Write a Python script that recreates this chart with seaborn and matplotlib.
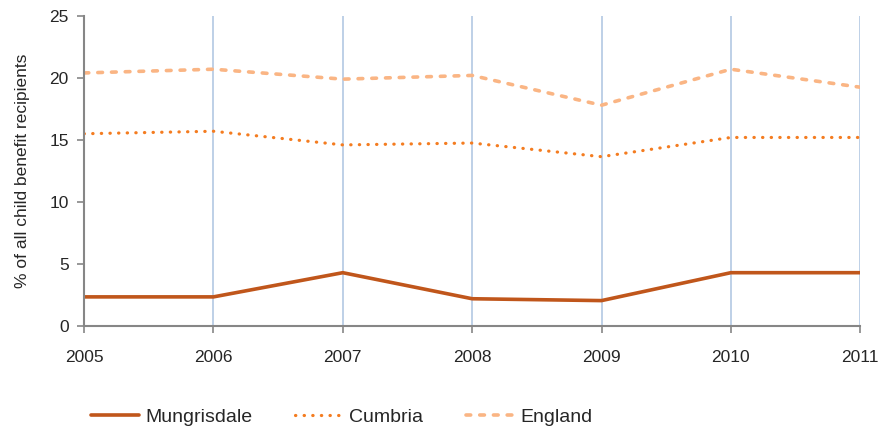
import matplotlib
matplotlib.use("Agg")
import matplotlib.pyplot as plt
import seaborn as sns

# values
years = [2005, 2006, 2007, 2008, 2009, 2010, 2011]
mungrisdale = [2.35, 2.35, 4.3, 2.2, 2.05, 4.3, 4.3]
cumbria = [15.5, 15.7, 14.6, 14.75, 13.65, 15.2, 15.2]
england = [20.4, 20.7, 19.9, 20.2, 17.8, 20.7, 19.25]

sns.set_style("white")
plt.rcParams['font.family'] = ['Liberation Sans', 'DejaVu Sans']

fig = plt.figure(figsize=(8.85, 4.29), dpi=100)
ax = fig.add_axes([0.095, 0.24, 0.877, 0.723])

sns.lineplot(x=years, y=mungrisdale, ax=ax, color='#C0561B', linewidth=2.6,
             label='Mungrisdale', solid_capstyle='round')
sns.lineplot(x=years, y=cumbria, ax=ax, color='#F47C20', linewidth=2.3,
             linestyle=(0, (0.1, 2.6)), dash_capstyle='round', label='Cumbria')
sns.lineplot(x=years, y=england, ax=ax, color='#FAB584', linewidth=2.6,
             linestyle=(0, (1.3, 2.5)), dash_capstyle='round', label='England')

ax.set_xlim(2005, 2011)
ax.set_ylim(0, 25)
ax.set_xticks(years)
ax.set_yticks([0, 5, 10, 15, 20, 25])
ax.set_ylabel('% of all child benefit recipients', fontsize=12.5, labelpad=14)

# vertical gridlines only
ax.grid(axis='x', color='#B9CDE5', linewidth=1.3)
ax.grid(axis='y', visible=False)
ax.set_axisbelow(True)

for side in ['top', 'right']:
    ax.spines[side].set_visible(False)
for side in ['left', 'bottom']:
    ax.spines[side].set_color('#868686')
    ax.spines[side].set_linewidth(1.5)

ax.tick_params(axis='both', direction='out', length=5, width=1.2,
               color='#868686', labelsize=12.5)
ax.tick_params(axis='x', pad=12, bottom=True)
ax.tick_params(axis='y', pad=6, left=True)

leg = ax.legend(loc='upper center', bbox_to_anchor=(0.332, -0.21), ncol=3,
                frameon=False, fontsize=14, handlelength=2.5,
                handletextpad=0.3, columnspacing=2.2)

fig.savefig('out.png', dpi=100)
